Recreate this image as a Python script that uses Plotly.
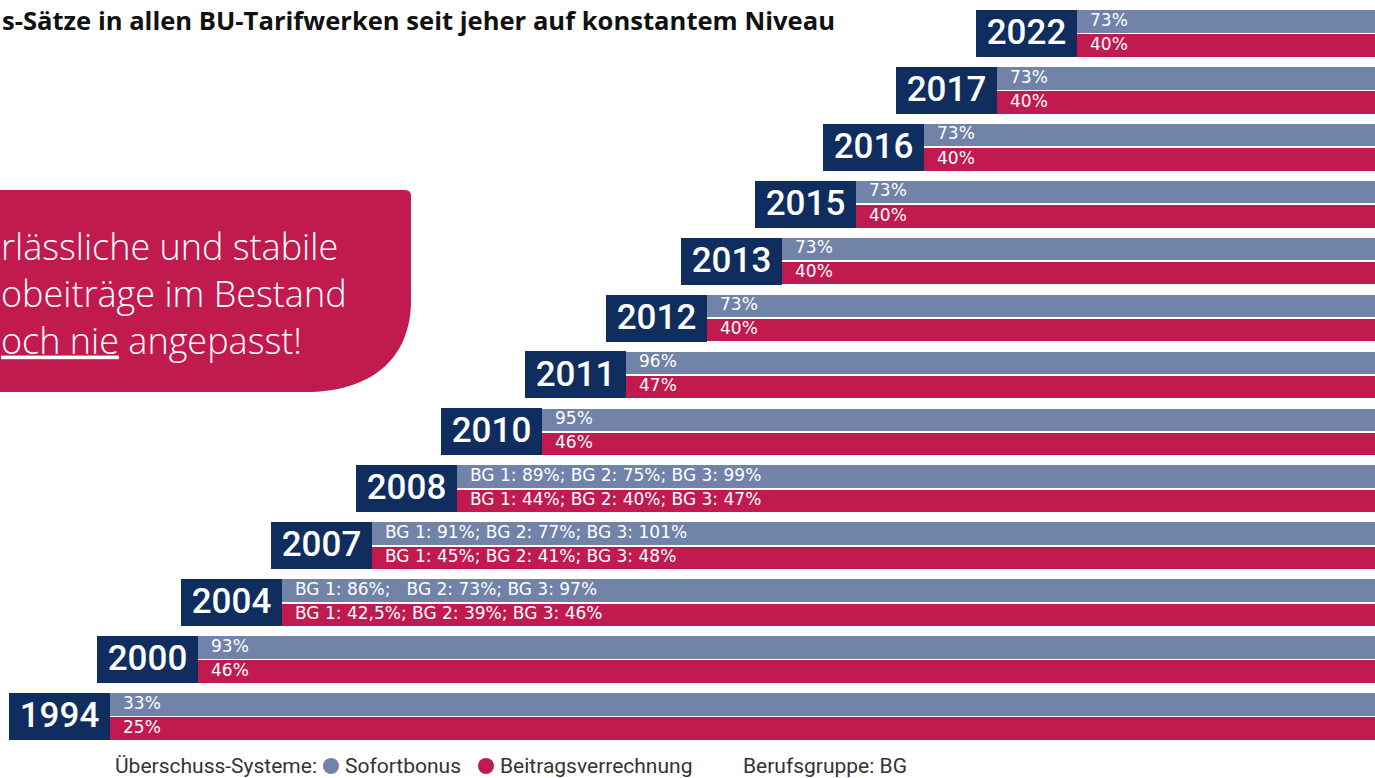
import plotly.graph_objects as go

# ---------------- data ----------------
years = ["1994", "2000", "2004", "2007", "2008", "2010", "2011",
         "2012", "2013", "2015", "2016", "2017", "2022"]
sofortbonus = ["33%", "93%",
               "BG 1: 86%;\u00a0\u00a0 BG 2: 73%; BG 3: 97%",
               "BG 1: 91%; BG 2: 77%; BG 3: 101%",
               "BG 1: 89%; BG 2: 75%; BG 3: 99%",
               "95%", "96%", "73%", "73%", "73%", "73%", "73%", "73%"]
beitragsverrechnung = ["25%", "46%",
                       "BG 1: 42,5%; BG 2: 39%; BG 3: 46%",
                       "BG 1: 45%; BG 2: 41%; BG 3: 48%",
                       "BG 1: 44%; BG 2: 40%; BG 3: 47%",
                       "46%", "47%", "40%", "40%", "40%", "40%", "40%", "40%"]
series_names = ["Sofortbonus", "Beitragsverrechnung"]

# ---------------- layout constants ----------------
W, H = 1375, 778
NAVY = "#0F2D5E"
BLUE = "#7283A9"
RED = "#C01A4F"
TXT = "#333333"

box_left = [9, 97, 181, 271, 356, 441, 525, 606, 681, 755, 823, 896, 976]
BOX_W = 101
X_END = 1400
ROW_PX = 56.92
FIRST_CENTER_PX = 716.5
Y_MAX = FIRST_CENTER_PX / ROW_PX
Y_MIN = (FIRST_CENTER_PX - H) / ROW_PX
BOX_H = 47 / ROW_PX
HALF_H = 22.5 / ROW_PX
OFF = 12.1 / ROW_PX
YEAR_SHIFT = 1.8 / ROW_PX


def row_of_px(p):
    return (FIRST_CENTER_PX - p) / ROW_PX


def px(x):
    return x / W


def py(y):
    return 1 - y / H


rows = list(range(len(years)))
bar_start = [b + BOX_W for b in box_left]

fig = go.Figure()

# navy year boxes
fig.add_trace(go.Bar(
    y=rows, x=[BOX_W] * len(rows), base=box_left, orientation="h",
    width=BOX_H, marker=dict(color=NAVY, line=dict(width=0)),
    showlegend=False, hoverinfo="skip"))

# series bars
fig.add_trace(go.Bar(
    y=[r + OFF for r in rows], x=[X_END - s for s in bar_start], base=bar_start,
    orientation="h", width=HALF_H, marker=dict(color=BLUE, line=dict(width=0)),
    name=series_names[0], showlegend=False, hoverinfo="skip"))
fig.add_trace(go.Bar(
    y=[r - OFF for r in rows], x=[X_END - s for s in bar_start], base=bar_start,
    orientation="h", width=HALF_H, marker=dict(color=RED, line=dict(width=0)),
    name=series_names[1], showlegend=False, hoverinfo="skip"))

# year labels
fig.add_trace(go.Scatter(
    x=[b + BOX_W / 2 for b in box_left], y=[r - YEAR_SHIFT for r in rows],
    mode="text", text=years, textposition="middle center",
    textfont=dict(family="Roboto", size=35, color="white", weight=500),
    showlegend=False, hoverinfo="skip"))

# bar labels
fig.add_trace(go.Scatter(
    x=[s + 13 for s in bar_start], y=[r + OFF for r in rows], mode="text",
    text=sofortbonus, textposition="middle right",
    textfont=dict(family="DejaVu Sans", size=17, color="white"),
    showlegend=False, hoverinfo="skip"))
fig.add_trace(go.Scatter(
    x=[s + 13 for s in bar_start], y=[r - OFF for r in rows], mode="text",
    text=beitragsverrechnung, textposition="middle right",
    textfont=dict(family="DejaVu Sans", size=17, color="white"),
    showlegend=False, hoverinfo="skip"))

# legend row (markers + labels), drawn on the chart's own scales
leg_y = row_of_px(766)
for name, col, lx in zip(series_names, [BLUE, RED], [331, 486]):
    fig.add_trace(go.Scatter(
        x=[lx], y=[leg_y], mode="markers", cliponaxis=False,
        marker=dict(symbol="circle", size=16, color=col),
        showlegend=False, hoverinfo="skip"))
    fig.add_annotation(
        text=name, x=px(lx + 12), y=py(766), xref="paper", yref="paper",
        xanchor="left", yanchor="middle", showarrow=False,
        font=dict(family="Roboto", size=21, color=TXT))

fig.add_annotation(
    text="Überschuss-Systeme:", x=px(113), y=py(766), xref="paper", yref="paper",
    xanchor="left", yanchor="middle", showarrow=False,
    font=dict(family="Roboto", size=21, color=TXT))
fig.add_annotation(
    text="Berufsgruppe: BG", x=px(741), y=py(766), xref="paper", yref="paper",
    xanchor="left", yanchor="middle", showarrow=False,
    font=dict(family="Roboto", size=21, color=TXT))

# callout shape (paper coords)
path = (f"M {px(-20)},{py(190)} L {px(405)},{py(190)} "
        f"Q {px(411)},{py(190)} {px(411)},{py(196)} "
        f"L {px(411)},{py(300)} "
        f"C {px(411)},{py(360)} {px(370)},{py(392)} {px(305)},{py(392)} "
        f"L {px(-20)},{py(392)} Z")
fig.add_shape(type="path", path=path, xref="paper", yref="paper",
              fillcolor=RED, line=dict(width=0), layer="below")

fig.add_annotation(
    text="rlässliche und stabile<br>obeiträge im Bestand<br><u>och nie</u> angepasst!",
    x=px(-1), y=py(293), xref="paper", yref="paper", xanchor="left",
    yanchor="middle", align="left", showarrow=False,
    font=dict(family="Open Sans", size=36, color="white", weight=300))

# title
fig.add_annotation(
    text="<b>s-Sätze in allen BU-Tarifwerken seit jeher auf konstantem Niveau</b>",
    x=0, y=py(20), xref="paper", yref="paper", xanchor="left", yanchor="middle",
    showarrow=False, font=dict(family="Open Sans", size=25.6, color="#111111"))

fig.update_layout(
    width=W, height=H, margin=dict(l=0, r=0, t=0, b=0),
    paper_bgcolor="white", plot_bgcolor="white",
    barmode="overlay", bargap=0,
    xaxis=dict(range=[0, W], visible=False, fixedrange=True),
    yaxis=dict(range=[Y_MIN, Y_MAX], visible=False, fixedrange=True),
    showlegend=False,
)

fig.write_html("out.html", config={"displayModeBar": False},
               post_script="document.body.style.margin='0';")
